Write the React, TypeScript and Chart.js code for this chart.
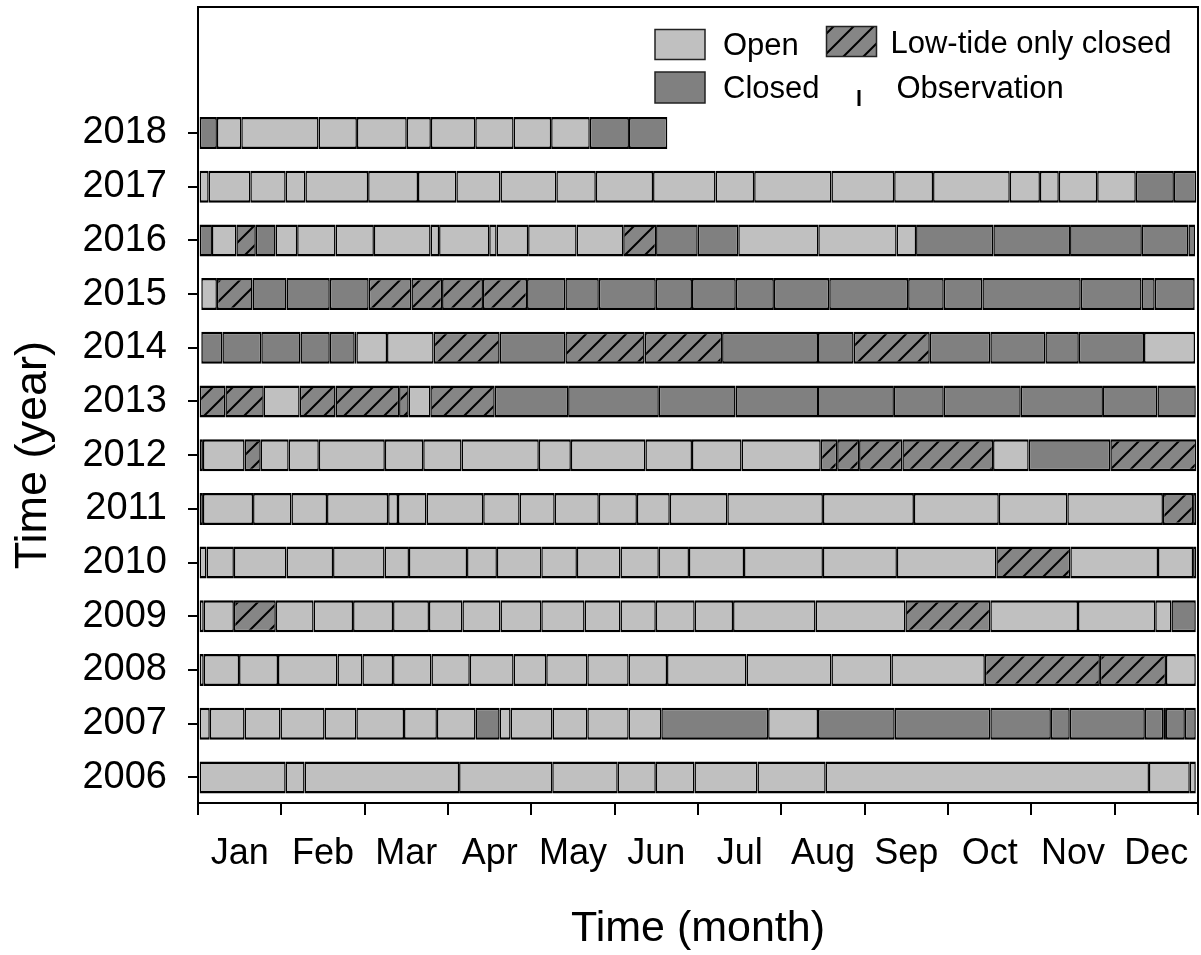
import React, { useEffect, useRef } from 'react';
import { Chart, registerables } from 'chart.js';

Chart.register(...registerables);

const FONT = "'Liberation Sans', Arial, Helvetica, sans-serif";

const years = [2018, 2017, 2016, 2015, 2014, 2013, 2012, 2011, 2010, 2009, 2008, 2007, 2006];
const yearTicks = [2006, 2007, 2008, 2009, 2010, 2011, 2012, 2013, 2014, 2015, 2016, 2017, 2018];
const monthLabels = ['Jan', 'Feb', 'Mar', 'Apr', 'May', 'Jun', 'Jul', 'Aug', 'Sep', 'Oct', 'Nov', 'Dec'];
const xTitle = 'Time (month)';
const yTitle = 'Time (year)';

// Observation dates (day of year) bounding each interval, and the state of each interval:
// O = open, C = closed, L = low-tide only closed
const obs2018 = [0.6, 6.9, 15.8, 44.0, 58.0, 76.2, 85.0, 101.2, 115.2, 128.9, 143.0, 157.3, 171.3];
const state2018 = 'COOOOOOOOOCC';
const obs2017 = [0.6, 3.9, 19.1, 32.0, 39.2, 62.1, 80.3, 94.3, 110.4, 130.8, 145.2, 166.1, 188.9, 203.0, 231.2, 254.1, 268.3, 296.3, 307.3, 314.2, 328.2, 342.3, 356.2, 364.4];
const state2017 = 'OOOOOOOOOOOOOOOOOOOOOCC';
const obs2016 = [0.6, 5.1, 14.0, 21.1, 28.3, 36.2, 50.2, 64.2, 84.9, 88.0, 106.3, 109.0, 120.5, 138.2, 155.2, 167.2, 182.4, 197.2, 226.4, 255.0, 262.1, 290.3, 318.3, 344.5, 361.5, 363.9];
const state2016 = 'COLCOOOOOOOOOOLCCOOOCCCCC';
const obs2015 = [1.2, 6.9, 19.9, 32.3, 48.1, 62.3, 77.9, 89.1, 104.0, 120.1, 134.1, 146.3, 167.1, 180.3, 196.3, 210.2, 230.4, 259.2, 272.2, 286.3, 322.2, 344.4, 349.2, 363.8];
const state2015 = 'OLCCCLLLLCCCCCCCCCCCCCC';
const obs2014 = [1.2, 8.9, 23.1, 37.4, 48.1, 57.2, 57.8, 69.0, 86.0, 110.1, 134.1, 163.0, 191.3, 226.3, 239.3, 267.1, 289.2, 309.3, 321.5, 345.3, 363.9];
const state2014 = 'CCCCCCOOLCLLCCLCCCCO';
const obs2013 = [0.6, 10.0, 24.0, 37.1, 50.2, 73.4, 76.9, 84.8, 108.3, 135.1, 168.2, 196.2, 226.3, 254.0, 272.2, 300.3, 330.3, 350.2, 364.2];
const state2013 = 'LLOLLLOLCCCCCCCCCC';
const obs2012 = [0.6, 1.8, 17.0, 22.9, 33.1, 44.1, 68.2, 82.2, 96.2, 124.4, 136.1, 163.3, 180.3, 198.4, 227.3, 233.3, 241.3, 257.1, 290.2, 303.2, 333.0, 364.4];
const state2012 = 'OOLOOOOOOOOOOOLLLLOCL';
const obs2011 = [0.6, 1.8, 20.1, 34.1, 47.1, 69.4, 73.0, 83.4, 104.1, 117.4, 130.2, 146.3, 160.2, 172.2, 193.2, 228.1, 261.3, 292.3, 317.3, 352.2, 363.2, 364.4];
const state2011 = 'OOOOOOOOOOOOOOOOOOOLO';
const obs2010 = [0.6, 3.1, 13.1, 32.3, 49.3, 68.1, 77.0, 98.2, 109.1, 125.3, 138.3, 154.2, 168.2, 179.2, 199.3, 228.1, 255.1, 291.4, 318.4, 350.4, 363.2, 364.4];
const state2010 = 'OOOOOOOOOOOOOOOOOLOOO';
const obs2009 = [0.6, 2.1, 13.1, 28.4, 42.2, 56.6, 71.2, 84.3, 96.5, 110.4, 125.3, 141.1, 154.2, 167.1, 181.3, 195.3, 225.4, 258.2, 289.2, 321.2, 349.4, 355.3, 364.2];
const state2009 = 'OOLOOOOOOOOOOOOOOLOOOC';
const obs2008 = [0.6, 2.1, 15.0, 29.2, 50.9, 60.0, 71.2, 85.2, 99.2, 115.2, 127.1, 142.1, 157.2, 171.2, 200.2, 231.2, 253.1, 287.2, 329.2, 353.3, 364.2];
const state2008 = 'OOOOOOOOOOOOOOOOOLLO';
const obs2007 = [0.6, 4.3, 17.0, 30.1, 46.2, 57.8, 75.2, 87.2, 101.3, 110.1, 114.1, 129.4, 142.1, 157.2, 169.1, 208.1, 226.3, 254.3, 289.2, 311.3, 318.2, 345.6, 352.3, 353.3, 360.2, 364.2];
const state2007 = 'OOOOOOOOCOOOOOCOCCCCCCCCC';
const obs2006 = [0.6, 32.0, 38.9, 95.3, 129.3, 153.2, 167.1, 181.2, 204.2, 229.1, 347.1, 362.0, 364.2];
const state2006 = 'OOOOOOOOOOOO';

const yearObs: Record<number, number[]> = {
  2018: obs2018, 2017: obs2017, 2016: obs2016, 2015: obs2015, 2014: obs2014, 2013: obs2013, 2012: obs2012,
  2011: obs2011, 2010: obs2010, 2009: obs2009, 2008: obs2008, 2007: obs2007, 2006: obs2006,
};
const yearState: Record<number, string> = {
  2018: state2018, 2017: state2017, 2016: state2016, 2015: state2015, 2014: state2014, 2013: state2013, 2012: state2012,
  2011: state2011, 2010: state2010, 2009: state2009, 2008: state2008, 2007: state2007, 2006: state2006,
};

const legendLabels = { open: 'Open', low: 'Low-tide only closed', closed: 'Closed', obs: 'Observation' };

const OPEN = '#c0c0c0';
const CLOSED = '#808080';
const HATCH_BG = '#868686';

function makeHatch(): CanvasPattern | string {
  const c = document.createElement('canvas');
  const s = 20;
  c.width = s;
  c.height = s;
  const g = c.getContext('2d');
  if (!g) return CLOSED;
  g.fillStyle = HATCH_BG;
  g.fillRect(0, 0, s, s);
  g.strokeStyle = '#000';
  g.lineWidth = 2;
  g.beginPath();
  g.moveTo(-2, s + 2);
  g.lineTo(s + 2, -2);
  g.moveTo(-2, 2);
  g.lineTo(2, -2);
  g.moveTo(s - 2, s + 2);
  g.lineTo(s + 2, s - 2);
  g.stroke();
  return g.createPattern(c, 'repeat') || CLOSED;
}

export default function App() {
  const ref = useRef<HTMLCanvasElement | null>(null);

  useEffect(() => {
    const canvas = ref.current;
    if (!canvas) return;
    const hatch = makeHatch();
    const fillFor = (s: string) => (s === 'O' ? OPEN : s === 'C' ? CLOSED : hatch);

    let maxSeg = 0;
    years.forEach((y) => {
      maxSeg = Math.max(maxSeg, yearObs[y].length - 1);
    });

    const datasets: any[] = [];
    for (let k = 0; k < maxSeg; k++) {
      const data: any[] = [];
      years.forEach((y) => {
        const o = yearObs[y];
        if (k < o.length - 1) {
          data.push({ y, x: [o[k], o[k + 1]], s: yearState[y][k] || 'O' });
        }
      });
      datasets.push({
        data,
        backgroundColor: (ctx: any) => fillFor(ctx.raw ? ctx.raw.s : 'O'),
        borderColor: '#000',
        borderWidth: { left: 1.5, right: 1.5, top: 2.5, bottom: 2.5 },
        borderSkipped: false,
        inflateAmount: 0,
        barThickness: 32,
        grouped: false,
      });
    }

    const framePlugin = {
      id: 'frameAndLegend',
      afterDatasetsDraw(chart: any) {
        const { ctx, chartArea } = chart;
        ctx.save();
        ctx.strokeStyle = '#000';
        ctx.lineWidth = 2;
        ctx.strokeRect(chartArea.left, chartArea.top, chartArea.right - chartArea.left, chartArea.bottom - chartArea.top);
        ctx.restore();
      },
      afterDraw(chart: any) {
        const { ctx } = chart;
        ctx.save();
        // y-axis title, centred on the span of the year rows
        const ys = chart.scales.y;
        const yMid = (ys.getPixelForValue(yearTicks[0]) + ys.getPixelForValue(yearTicks[yearTicks.length - 1])) / 2;
        ctx.save();
        ctx.translate(34, yMid);
        ctx.rotate(-Math.PI / 2);
        ctx.fillStyle = '#000';
        ctx.font = `45px ${FONT}`;
        ctx.textAlign = 'center';
        ctx.textBaseline = 'middle';
        ctx.fillText(yTitle, 0, 0);
        ctx.restore();

        const box = (x: number, y: number, w: number, h: number, fill: any) => {
          ctx.fillStyle = fill;
          ctx.fillRect(x, y, w, h);
          ctx.strokeStyle = '#222';
          ctx.lineWidth = 1.5;
          ctx.strokeRect(x, y, w, h);
        };
        box(655, 29.5, 50, 30, OPEN);
        box(826.5, 26.5, 50, 30, hatch);
        box(655, 72, 50, 31, CLOSED);
        ctx.strokeStyle = '#000';
        ctx.lineWidth = 3;
        ctx.beginPath();
        ctx.moveTo(859, 90);
        ctx.lineTo(859, 106);
        ctx.stroke();
        ctx.fillStyle = '#000';
        ctx.font = `31px ${FONT}`;
        ctx.textAlign = 'left';
        ctx.textBaseline = 'alphabetic';
        ctx.fillText(legendLabels.open, 723, 55);
        ctx.fillText(legendLabels.low, 890.5, 53);
        ctx.fillText(legendLabels.closed, 723, 98);
        ctx.fillText(legendLabels.obs, 896.5, 98);
        ctx.restore();
      },
    };

    const chart = new Chart(canvas, {
      type: 'bar',
      data: { datasets },
      plugins: [framePlugin],
      options: {
        indexAxis: 'y',
        animation: false,
        responsive: false,
        devicePixelRatio: 1,
        layout: { padding: { top: 7, right: 3, left: 0, bottom: 0 } },
        plugins: { legend: { display: false }, tooltip: { enabled: false } },
        scales: {
          x: { type: 'linear', min: 0, max: 365, display: false, offset: false },
          xm: {
            type: 'category',
            labels: monthLabels,
            position: 'bottom',
            offset: true,
            grid: { offset: true, drawOnChartArea: false, drawTicks: true, tickLength: 12, color: '#000', lineWidth: 2 },
            border: { display: true, color: '#000', width: 2 },
            ticks: { autoSkip: false, maxRotation: 0, color: '#000', padding: 17, font: { family: FONT, size: 36 } },
            title: { display: true, text: xTitle, color: '#000', font: { family: FONT, size: 43 }, padding: { top: 0, bottom: 0 } },
            afterFit: (scale: any) => {
              scale.height = 152;
              scale.paddingLeft = 0;
              scale.paddingRight = 0;
              scale.paddingTop = 0;
              scale.paddingBottom = 0;
            },
          },
          y: {
            type: 'linear',
            position: 'left',
            offset: false,
            min: 2005.523,
            max: 2020.346,
            afterBuildTicks: (scale: any) => {
              scale.ticks = yearTicks.map((v) => ({ value: v }));
            },
            grid: { offset: false, drawOnChartArea: false, drawTicks: true, tickLength: 10, color: '#000', lineWidth: 2 },
            border: { display: true, color: '#000', width: 2 },
            ticks: { color: '#000', padding: 21, font: { family: FONT, size: 38 }, callback: (v: any) => String(v) },
            title: { display: false },
            afterFit: (scale: any) => {
              scale.width = 198;
              scale.paddingLeft = 0;
              scale.paddingRight = 0;
              scale.paddingTop = 0;
              scale.paddingBottom = 0;
            },
          },
        },
      },
    } as any);

    return () => chart.destroy();
  }, []);

  return (
    <div style={{ position: 'absolute', left: 0, top: 0, width: 1201, height: 955, background: '#fff' }}>
      <canvas ref={ref} width={1201} height={955} style={{ display: 'block', width: 1201, height: 955 }} />
    </div>
  );
}
